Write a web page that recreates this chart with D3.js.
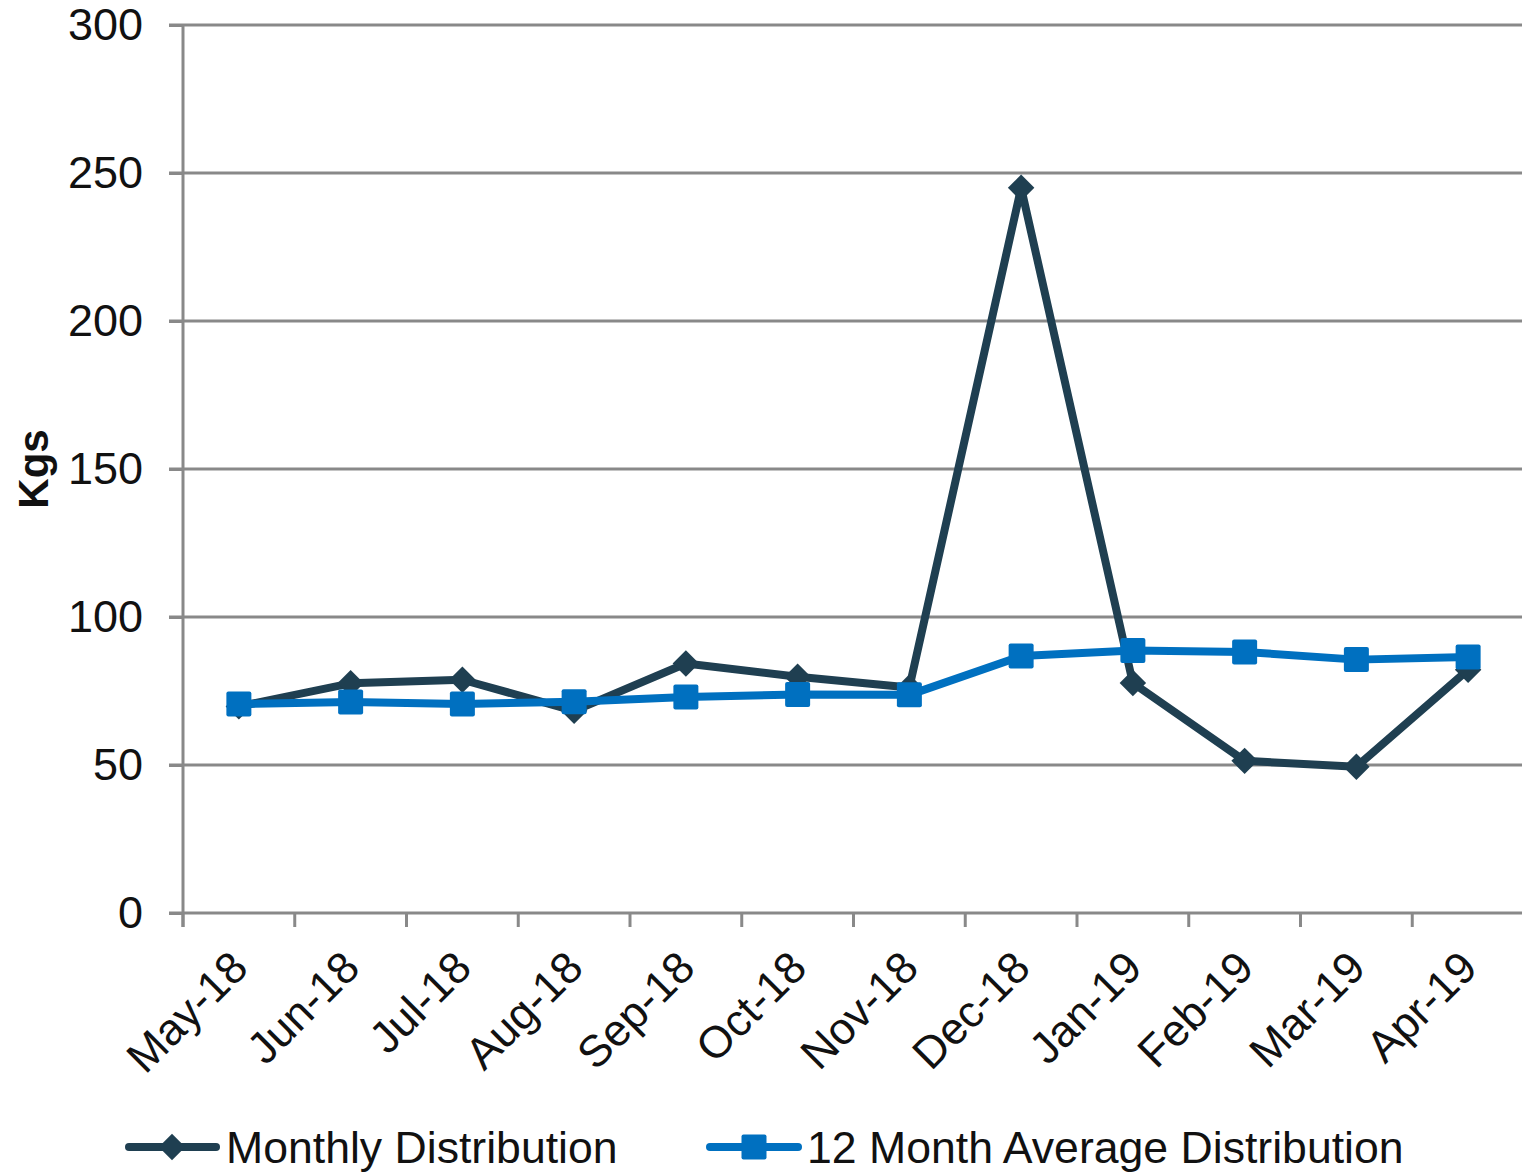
<!DOCTYPE html>
<html>
<head>
<meta charset="utf-8">
<script src="https://cdn.jsdelivr.net/npm/d3@7"></script>
<style>
  body { margin: 0; background: #fff; }
  svg text { font-family: "Liberation Sans", Arial, sans-serif; fill: #111; }
</style>
</head>
<body>
<div class="chart"></div>
<script>
// chart data
var months = ["May-18", "Jun-18", "Jul-18", "Aug-18", "Sep-18", "Oct-18",
              "Nov-18", "Dec-18", "Jan-19", "Feb-19", "Mar-19", "Apr-19"];
var monthly = [69.8, 77.6, 78.8, 68.3, 84.3, 79.8, 76.2, 245, 77.7, 51.4, 49.4, 82.2];
var average = [70.6, 71.3, 70.6, 71.4, 73.0, 73.8, 73.7, 86.8, 88.7, 88.2, 85.6, 86.5];
var yTicks = [0, 50, 100, 150, 200, 250, 300];
var seriesNames = ["Monthly Distribution", "12 Month Average Distribution"];

var darkColor = "#1F3F51";
var blueColor = "#0070C0";
var gridColor = "#898989";

var svgWidth = 1522, svgHeight = 1174;
var plot = { left: 183, right: 1524, top: 25, bottom: 913 };

var svg = d3.select(".chart").append("svg")
  .attr("width", svgWidth)
  .attr("height", svgHeight);

// scales
var x = d3.scaleBand().domain(months).range([plot.left, plot.right]).padding(0);
var y = d3.scaleLinear().domain([0, 300]).range([plot.bottom, plot.top]);

// horizontal gridlines
svg.append("g").selectAll("line")
  .data(yTicks)
  .enter().append("line")
  .attr("x1", plot.left - 14)
  .attr("x2", plot.right)
  .attr("y1", d => y(d))
  .attr("y2", d => y(d))
  .attr("stroke", gridColor)
  .attr("stroke-width", 3);

// y axis
var yAxis = d3.axisLeft(y).tickValues(yTicks).tickSize(14).tickPadding(26);
var yg = svg.append("g")
  .attr("transform", `translate(${plot.left}, 0)`)
  .call(yAxis);
yg.select(".domain").remove();
yg.selectAll(".tick line").attr("stroke", gridColor).attr("stroke-width", 3);
yg.selectAll(".tick text")
  .attr("font-size", 45)
  .attr("font-family", "Liberation Sans, Arial, sans-serif")
  .attr("fill", "#111");

svg.append("line")
  .attr("x1", plot.left).attr("x2", plot.left)
  .attr("y1", plot.top).attr("y2", plot.bottom + 14)
  .attr("stroke", gridColor)
  .attr("stroke-width", 3);

// x axis tick marks at band boundaries
svg.append("g").selectAll("line")
  .data(months)
  .enter().append("line")
  .attr("x1", d => x(d))
  .attr("x2", d => x(d))
  .attr("y1", plot.bottom)
  .attr("y2", plot.bottom + 14)
  .attr("stroke", gridColor)
  .attr("stroke-width", 3);

// x labels, rotated
svg.append("g").selectAll("text")
  .data(months)
  .enter().append("text")
  .attr("transform", d => `translate(${x(d) + x.bandwidth() / 2}, 959) rotate(-45)`)
  .attr("text-anchor", "end")
  .attr("dy", "0.36em")
  .attr("font-size", 44.5)
  .text(d => d);

// y axis title
svg.append("text")
  .attr("transform", "translate(33, 469) rotate(-90)")
  .attr("text-anchor", "middle")
  .attr("dy", "0.36em")
  .attr("font-size", 42)
  .attr("font-weight", "bold")
  .text("Kgs");

var cx = d => x(d) + x.bandwidth() / 2;

var line = d3.line()
  .x((d, i) => cx(months[i]))
  .y(d => y(d));

var diamond = d3.symbol().type(d3.symbolSquare).size(350);

// monthly series
svg.append("path")
  .datum(monthly)
  .attr("d", line)
  .attr("fill", "none")
  .attr("stroke", darkColor)
  .attr("stroke-width", 8)
  .attr("stroke-linejoin", "round");

svg.append("g").selectAll("path")
  .data(monthly)
  .enter().append("path")
  .attr("d", diamond)
  .attr("transform", (d, i) => `translate(${cx(months[i])}, ${y(d)}) rotate(45)`)
  .attr("fill", darkColor);

// 12 month average series
svg.append("path")
  .datum(average)
  .attr("d", line)
  .attr("fill", "none")
  .attr("stroke", blueColor)
  .attr("stroke-width", 8)
  .attr("stroke-linejoin", "round");

svg.append("g").selectAll("rect")
  .data(average)
  .enter().append("rect")
  .attr("x", (d, i) => cx(months[i]) - 12.5)
  .attr("y", d => y(d) - 12.5)
  .attr("width", 25)
  .attr("height", 25)
  .attr("rx", 2)
  .attr("fill", blueColor);

// legend
var legendY = 1147;
var leg1 = svg.append("g");
leg1.append("line")
  .attr("x1", 129).attr("x2", 216)
  .attr("y1", legendY).attr("y2", legendY)
  .attr("stroke", darkColor).attr("stroke-width", 8).attr("stroke-linecap", "round");
leg1.append("path")
  .attr("d", diamond)
  .attr("transform", `translate(172, ${legendY}) rotate(45)`)
  .attr("fill", darkColor);
leg1.append("text")
  .attr("x", 226).attr("y", legendY)
  .attr("dy", "0.36em")
  .attr("font-size", 44.6)
  .text(seriesNames[0]);

var leg2 = svg.append("g");
leg2.append("line")
  .attr("x1", 710).attr("x2", 798)
  .attr("y1", legendY).attr("y2", legendY)
  .attr("stroke", blueColor).attr("stroke-width", 8).attr("stroke-linecap", "round");
leg2.append("rect")
  .attr("x", 754 - 12.5).attr("y", legendY - 12.5)
  .attr("width", 25).attr("height", 25).attr("rx", 2)
  .attr("fill", blueColor);
leg2.append("text")
  .attr("x", 807).attr("y", legendY)
  .attr("dy", "0.36em")
  .attr("font-size", 44.6)
  .text(seriesNames[1]);
</script>
</body>
</html>
